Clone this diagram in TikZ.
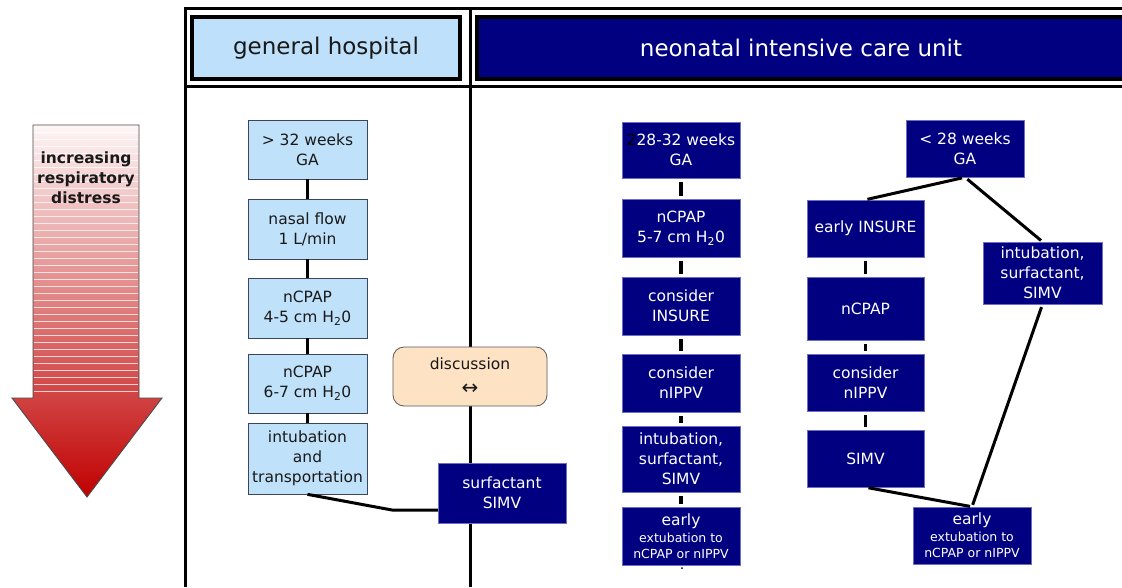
\documentclass[tikz,border=0pt]{standalone}
\usepackage{fontspec}
\setmainfont{DejaVu Sans}
\usetikzlibrary{calc}
\definecolor{lblue}{RGB}{192,225,250}
\definecolor{hblue}{RGB}{190,224,250}
\definecolor{navyc}{RGB}{0,0,128}
\definecolor{navyedge}{RGB}{110,110,190}
\definecolor{peach}{RGB}{253,226,196}
\definecolor{arrtop}{RGB}{254,246,246}
\definecolor{arrmid}{RGB}{225,115,115}
\definecolor{arrbot}{RGB}{192,0,0}
\definecolor{boxedge}{RGB}{60,70,90}
\definecolor{tdark}{RGB}{25,25,25}
\newcommand\bxfont{\fontsize{15.5}{20}\selectfont}
\newcommand\smfont{\fontsize{12.5}{16}\selectfont}
\begin{document}
\begin{tikzpicture}[x=1pt,y=-1pt,
  sz/.style 2 args={minimum width=#1, minimum height=#2},
  lbbox/.style={draw=boxedge, fill=lblue, line width=0.7pt, align=center, inner sep=0pt, text=tdark, font=\bxfont},
  nvbox/.style={draw=navyedge, fill=navyc, line width=0.5pt, align=center, inner sep=0pt, text=white, font=\bxfont},
  hdr/.style={draw=black, line width=3.2pt, inner sep=0pt, font=\fontsize{23}{27}\selectfont},
  conn/.style={draw=black, line width=3pt},
  connb/.style={draw=black, line width=3.6pt, shorten >=3pt, shorten <=4pt},
  frame/.style={draw=black, line width=3pt}]
\useasboundingbox (0,0) rectangle (1122,587);
\clip (0,0) rectangle (1122,587);
\fill[white] (0,0) rectangle (1122,587);

% ---- increasing respiratory distress arrow
\path[draw=black!70, line width=0.9pt, top color=arrtop, middle color=arrmid, bottom color=arrbot]
  (33,125) -- (139,125) -- (139,398) -- (162,398) -- (87,497) -- (12,398) -- (33,398) -- cycle;
\foreach \yy in {132,139,...,395} {
  \draw[white, line width=1pt, opacity=0.75] (34,\yy) -- (138,\yy);
}
\node[align=center, font=\bfseries\fontsize{15.5}{20}\selectfont, text=tdark] (rd) at (86,178) {increasing\\respiratory\\distress};

% ---- frame
\coordinate (ftl) at (184,8);
\coordinate (ftr) at (1122,8);
\coordinate (fbl) at (184,86);
\coordinate (fbr) at (1122,86);
\coordinate (lt) at (185,8);
\coordinate (lb) at (185,587);
\coordinate (st) at (470,8);
\coordinate (sb) at (470,587);
\draw[frame] (ftl) -- (ftr);
\draw[frame] (fbl) -- (fbr);
\draw[frame] (lt) -- (lb);
\draw[frame] (st) -- (sb);

\node[hdr, fill=hblue, text=tdark, sz={268}{62}] (hgh) at (326,48) {general hospital};
\node[hdr, fill=navyc, text=white, sz={648}{62}] (hnicu) at (801,48) {neonatal intensive care unit};

% ---- general hospital column
\node[lbbox, sz={119}{59}] (g1) at (307.5,149.5) {> 32 weeks\\GA};
\node[lbbox, sz={119}{60}] (g2) at (307.5,229) {nasal flow\\1 L/min};
\node[lbbox, sz={119}{60}] (g3) at (307.5,308) {nCPAP\\4-5 cm H\textsubscript{2}0};
\node[lbbox, sz={119}{59}] (g4) at (307.5,383.5) {nCPAP\\6-7 cm H\textsubscript{2}0};
\node[lbbox, sz={119}{71}] (g5) at (307.5,458.5) {intubation\\and\\transportation};

\draw[conn] (g1) -- (g2);
\draw[conn] (g2) -- (g3);
\draw[conn] (g3) -- (g4);
\draw[conn] (g4) -- (g5);

\node[draw=black!65, fill=peach, rounded corners=11pt, line width=0.8pt, sz={154}{59}, align=center, inner sep=0pt, text=tdark, font=\bxfont] (disc) at (470,376.5) {discussion\\[5pt]{\fontsize{20}{20}\selectfont ↔}};

\node[nvbox, sz={128}{60}] (ss) at (502,493) {surfactant\\SIMV};
\coordinate (gbend) at (392,510);
\draw[conn, line join=round] (g5.south) -- (gbend) -- (gbend -| ss.west);

% ---- NICU column 1 (28-32 weeks)
\node[nvbox, sz={118}{56}] (a) at (681,150) {{\color{black}2}28-32 weeks\\GA};
\node[nvbox, sz={118}{58}] (b) at (681,228) {nCPAP\\5-7 cm H\textsubscript{2}0};
\node[nvbox, sz={118}{58}] (c) at (681,306) {consider\\INSURE};
\node[nvbox, sz={118}{58}] (d) at (681,383) {consider\\nIPPV};
\node[nvbox, sz={118}{66}] (e) at (681,459) {intubation,\\surfactant,\\SIMV};
\node[nvbox, sz={118}{58}] (f) at (681,536) {early\\[-3pt]{\smfont extubation to}\\[-4pt]{\smfont nCPAP or nIPPV}};
\draw[connb] (a) -- (b);
\draw[connb] (b) -- (c);
\draw[connb] (c) -- (d);
\draw[connb] (d) -- (e);
\draw[connb] (e) -- (f);
\coordinate (fdot) at (682,568);
\fill[black] (fdot) circle (1pt);

% ---- NICU column 2 (< 28 weeks)
\node[nvbox, sz={118}{57}] (g) at (965,148.5) {< 28 weeks\\GA};
\node[nvbox, sz={117}{57}] (h) at (865.5,228.5) {early INSURE};
\node[nvbox, sz={117}{63}] (i) at (865.5,308.5) {nCPAP};
\node[nvbox, sz={117}{57}] (j) at (865.5,382.5) {consider\\nIPPV};
\node[nvbox, sz={117}{57}] (k) at (865.5,458.5) {SIMV};
\node[nvbox, sz={119}{62}] (l) at (1042.5,273) {intubation,\\surfactant,\\SIMV};
\node[nvbox, sz={118}{57}] (m) at (972,535.5) {early\\[-3pt]{\smfont extubation to}\\[-4pt]{\smfont nCPAP or nIPPV}};

\draw[conn, shorten >=3pt, shorten <=4pt] (h) -- (i);
\draw[conn, shorten >=3pt, shorten <=4pt] (i) -- (j);
\draw[conn, shorten >=3pt, shorten <=4pt] (j) -- (k);
\draw[conn, shorten <=3pt, shorten >=2pt] (g.south) -- (h.north);
\draw[conn, shorten <=3pt, shorten >=2pt] (g.south) -- (l.north);
\draw[conn, shorten <=3pt, shorten >=2pt] (l.south) -- (m.north);
\draw[conn, shorten <=3pt, shorten >=2pt] (k.south) -- (m.north);
\end{tikzpicture}
\end{document}
